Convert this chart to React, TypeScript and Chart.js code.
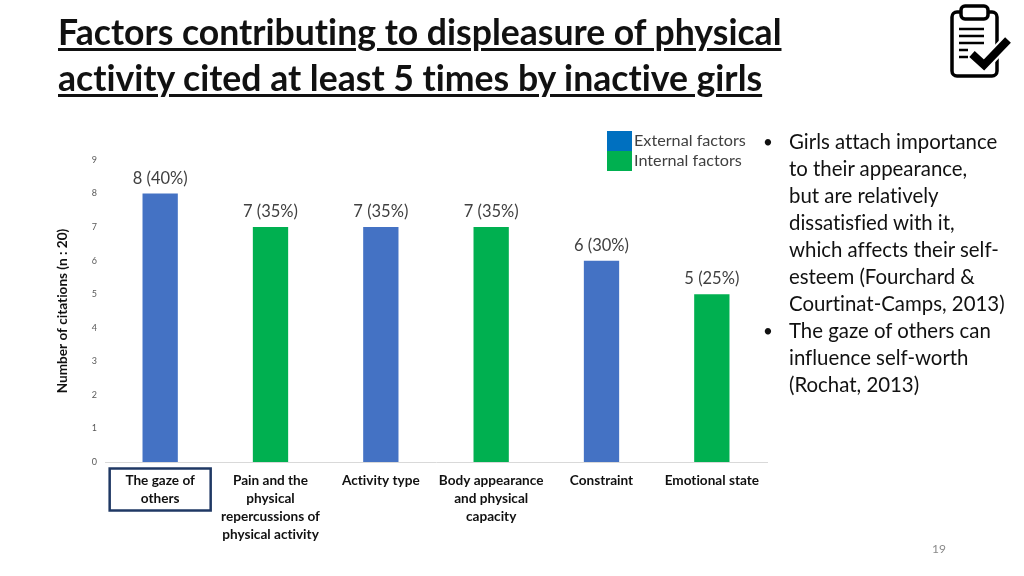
import React, { useEffect, useRef } from "react";
import { Chart, registerables } from "chart.js";

Chart.register(...registerables);

const categories: string[][] = [
  ["The gaze of", "others"],
  ["Pain and the", "physical", "repercussions of", "physical activity"],
  ["Activity type"],
  ["Body appearance", "and physical", "capacity"],
  ["Constraint"],
  ["Emotional state"],
];
const citations = [8, 7, 7, 7, 6, 5];
const valueLabels = ["8 (40%)", "7 (35%)", "7 (35%)", "7 (35%)", "6 (30%)", "5 (25%)"];
const BLUE = "#4472C4";
const GREEN = "#00B050";
const barColors = [BLUE, GREEN, BLUE, GREEN, BLUE, GREEN];
const titleLines = [
  "Factors contributing to displeasure of physical",
  "activity cited at least 5 times by inactive girls",
];
const bullets = [
  ["Girls attach importance", "to their appearance,", "but are relatively", "dissatisfied with it,", "which affects their self-", "esteem (Fourchard &", "Courtinat-Camps, 2013)"],
  ["The gaze of others can", "influence self-worth", "(Rochat, 2013)"],
];
const legendItems = [
  { label: "External factors", color: "#0070C0" },
  { label: "Internal factors", color: "#00B050" },
];

const FONT = "Lato, 'Open Sans', sans-serif";

const annotate = {
  id: "annotate",
  beforeInit(chart: any) {
    chart.ctx.textRendering = "optimizeSpeed";
  },
  afterDatasetsDraw(chart: any) {
    const { ctx, scales } = chart;
    ctx.save();
    ctx.font = `16.5px ${FONT}`;
    ctx.fillStyle = "#404040";
    ctx.textAlign = "center";
    ctx.textBaseline = "bottom";
    citations.forEach((v, i) => {
      ctx.fillText(valueLabels[i], scales.x.getPixelForValue(i) + 0, scales.y.getPixelForValue(v) - 7);
    });
    const cx = scales.x.getPixelForValue(0);
    const y0 = scales.y.getPixelForValue(0);
    ctx.strokeStyle = "#1F3864";
    ctx.lineWidth = 2.5;
    ctx.strokeRect(cx - 50.5, y0 + 6.5, 101, 42);
    ctx.restore();
  },
};

export default function App() {
  const ref = useRef<HTMLCanvasElement>(null);
  useEffect(() => {
    const chart = new Chart(ref.current!, {
      type: "bar",
      data: {
        labels: categories,
        datasets: [
          {
            data: citations,
            backgroundColor: barColors,
            barPercentage: 0.32,
            categoryPercentage: 1,
          },
        ],
      },
      options: {
        responsive: false,
        animation: false,
        layout: { padding: { left: 50, right: 257, top: 160, bottom: 0 } },
        plugins: { legend: { display: false }, tooltip: { enabled: false } },
        scales: {
          x: {
            afterFit: (s: any) => { s.height = 114; },
            grid: { display: false, drawTicks: false },
            border: { color: "#D9D9D9", width: 1 },
            ticks: {
              maxRotation: 0,
              autoSkip: false,
              color: "#111111",
              padding: 10,
              font: { family: FONT, size: 13.6, weight: "bold", lineHeight: 1.324 },
            },
          },
          y: {
            min: 0,
            max: 9,
            afterFit: (s: any) => { s.width = 55; },
            grid: { display: false, drawTicks: false },
            border: { display: false },
            ticks: {
              stepSize: 1,
              color: "#595959",
              padding: 8,
              font: { family: FONT, size: 9 },
            },
            title: {
              display: true,
              text: "Number of citations (n : 20)",
              color: "#111111",
              font: { family: FONT, size: 13.6, weight: "bold" },
              padding: { top: 4, bottom: 0 },
            },
          },
        },
      },
      plugins: [annotate],
    } as any);
    return () => chart.destroy();
  }, []);

  const noLig = { fontVariantLigatures: "none" } as const;
  return (
    <div style={{ position: "absolute", left: 0, top: 0, width: 1024, height: 576, overflow: "hidden", background: "#fff", fontFamily: FONT, ...noLig }}>
      <canvas ref={ref} width={1024} height={576} style={{ position: "absolute", left: 0, top: 0 }} />
      {titleLines.map((t, i) => (
        <div key={t} style={{ position: "absolute", left: 58, top: 9 + i * 46, fontSize: 35.6, lineHeight: "46px", fontWeight: 700, color: "#111", textDecoration: "underline", textDecorationThickness: 2.5, textUnderlineOffset: 3, whiteSpace: "nowrap" }}>{t}</div>
      ))}
      {legendItems.map((it, i) => (
        <React.Fragment key={it.label}>
          <div style={{ position: "absolute", left: 607, top: 131 + i * 20, width: 25, height: 20, background: it.color }} />
          <div style={{ position: "absolute", left: 634, top: 131 + i * 20 - 1, fontSize: 16.2, lineHeight: "20px", color: "#404040", whiteSpace: "nowrap" }}>{it.label}</div>
        </React.Fragment>
      ))}
      {bullets.flatMap((b, bi) =>
        b.map((line, li) => {
          const idx = (bi === 0 ? 0 : bullets[0].length) + li;
          return (
            <React.Fragment key={line}>
              {li === 0 && <div style={{ position: "absolute", left: 763, top: 127.5 + idx * 27, fontSize: 17, lineHeight: "27px", color: "#111" }}>•</div>}
              <div style={{ position: "absolute", left: 789, top: 127.5 + idx * 27, fontSize: 20.4, lineHeight: "27px", color: "#111", whiteSpace: "nowrap" }}>{line}</div>
            </React.Fragment>
          );
        })
      )}
      <div style={{ position: "absolute", left: 932, top: 541, fontSize: 12, lineHeight: "15px", color: "#8A8A8A" }}>19</div>
      <svg style={{ position: "absolute", left: 930, top: 0 }} width={94} height={90} viewBox="0 0 94 90">
        <rect x="22" y="12" width="45" height="64" rx="5" fill="none" stroke="#000" strokeWidth="3.5" />
        <rect x="31" y="6" width="27" height="13" rx="4" fill="#fff" stroke="#000" strokeWidth="3.5" />
        {[29, 36, 43, 50, 57].map((y, i) => (
          <line key={y} x1="29" x2={i < 3 ? 54 : 38} y1={y} y2={y} stroke="#000" strokeWidth="2.5" />
        ))}
        <path d="M42 54 L54 65 L78 40" fill="none" stroke="#fff" strokeWidth="12" />
        <path d="M42 54 L54 65 L78 40" fill="none" stroke="#000" strokeWidth="8" />
      </svg>
    </div>
  );
}
